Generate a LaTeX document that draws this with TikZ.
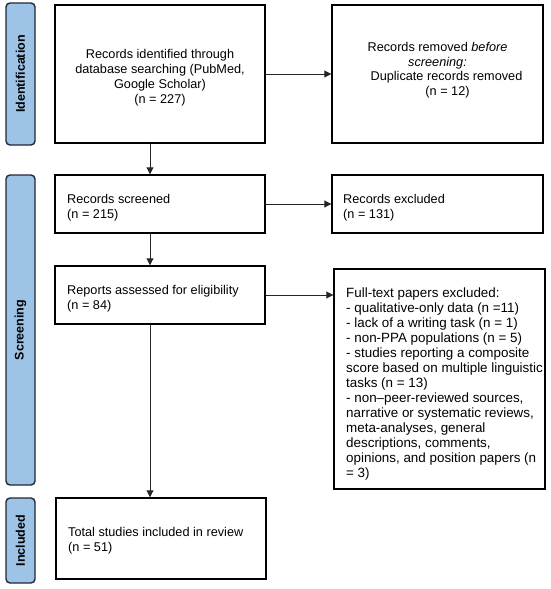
\documentclass[tikz,border=0pt]{standalone}
\usepackage{fontspec}
\setmainfont{Liberation Sans}
\usetikzlibrary{arrows.meta}
\definecolor{barfill}{RGB}{157,195,230}
\definecolor{barline}{RGB}{30,40,55}
\begin{document}
\begin{tikzpicture}[x=1pt,y=-1pt,
  box/.style={draw=black, line width=1.4pt, inner sep=0pt},
  txt/.style={inner sep=0pt, font=\fontsize{12.7}{15}\selectfont},
  ltxt/.style={txt, anchor=west, align=left},
  bar/.style={draw=barline, line width=1.4pt, fill=barfill, rounded corners=4pt,
    rotate=90, minimum height=29pt, inner sep=0pt, font=\bfseries\fontsize{12.5}{15}\selectfont},
  conn/.style={line width=0.9pt, draw=black!85, -{Triangle[length=7pt,width=7pt]}}
]
\useasboundingbox (0,0) rectangle (550,589);
\coordinate (col) at (150,0);

% phase bars
\node[bar, minimum width=142pt] (idbar) at (20.5,74) {Identification};
\node[bar, minimum width=310pt] (scbar) at (20.5,330) {Screening};
\node[bar, minimum width=85pt] (inbar) at (20.5,540.5) {Included};

% boxes
\node[box, minimum width=210pt, minimum height=138pt] (b1) at (160,74) {};
\node[txt, align=center] (t1) at (160,77.5)
  {Records identified through\\database searching (PubMed,\\Google Scholar)\\(n = 227)};

\node[box, minimum width=211pt, minimum height=138pt] (b2) at (437.5,74) {};
\node[txt, align=center, font=\fontsize{12.7}{14.5}\selectfont] (t2) at (437.5,70)
  {Records removed \textit{before}\\\textit{screening:}\hspace*{32pt}\\\hspace*{18pt}Duplicate records removed\\\hspace*{20pt}(n = 12)};

\node[box, minimum width=210pt, minimum height=58pt] (b3) at (160,204) {};
\node[ltxt] (t3) at (67,207.5) {Records screened\\(n = 215)};

\node[box, minimum width=211pt, minimum height=58pt] (b4) at (437.5,204) {};
\node[ltxt] (t4) at (343,207.5) {Records excluded\\(n = 131)};

\node[box, minimum width=210pt, minimum height=58pt] (b5) at (160,295) {};
\node[ltxt] (t5) at (67,298.5) {Reports assessed for eligibility\\(n = 84)};

\node[box, minimum width=211pt, minimum height=220pt] (b6) at (439.5,379) {};
\node[ltxt, font=\fontsize{13.4}{15}\selectfont] (t6) at (346,384)
  {Full-text papers excluded:\\
   - qualitative-only data (n =11)\\
   - lack of a writing task (n = 1)\\
   - non-PPA populations (n = 5)\\
   - studies reporting a composite\\
   score based on multiple linguistic\\
   tasks (n = 13)\\
   - non--peer-reviewed sources,\\
   narrative or systematic reviews,\\
   meta-analyses, general\\
   descriptions, comments,\\
   opinions, and position papers (n\\
   = 3)};

\node[box, minimum width=210pt, minimum height=81pt] (b7) at (161,538.5) {};
\node[ltxt] (t7) at (68,541) {Total studies included in review\\(n = 51)};

% connectors
\draw[conn] (b1.east) -- (b2.west);
\draw[conn] (b1.south -| col) -- (b3.north -| col);
\draw[conn] (b3.east) -- (b4.west);
\draw[conn] (b3.south -| col) -- (b5.north -| col);
\draw[conn] (b5.east) -- (b5.east -| b6.west);
\draw[conn] (b5.south -| col) -- (b7.north -| col);
\end{tikzpicture}
\end{document}
